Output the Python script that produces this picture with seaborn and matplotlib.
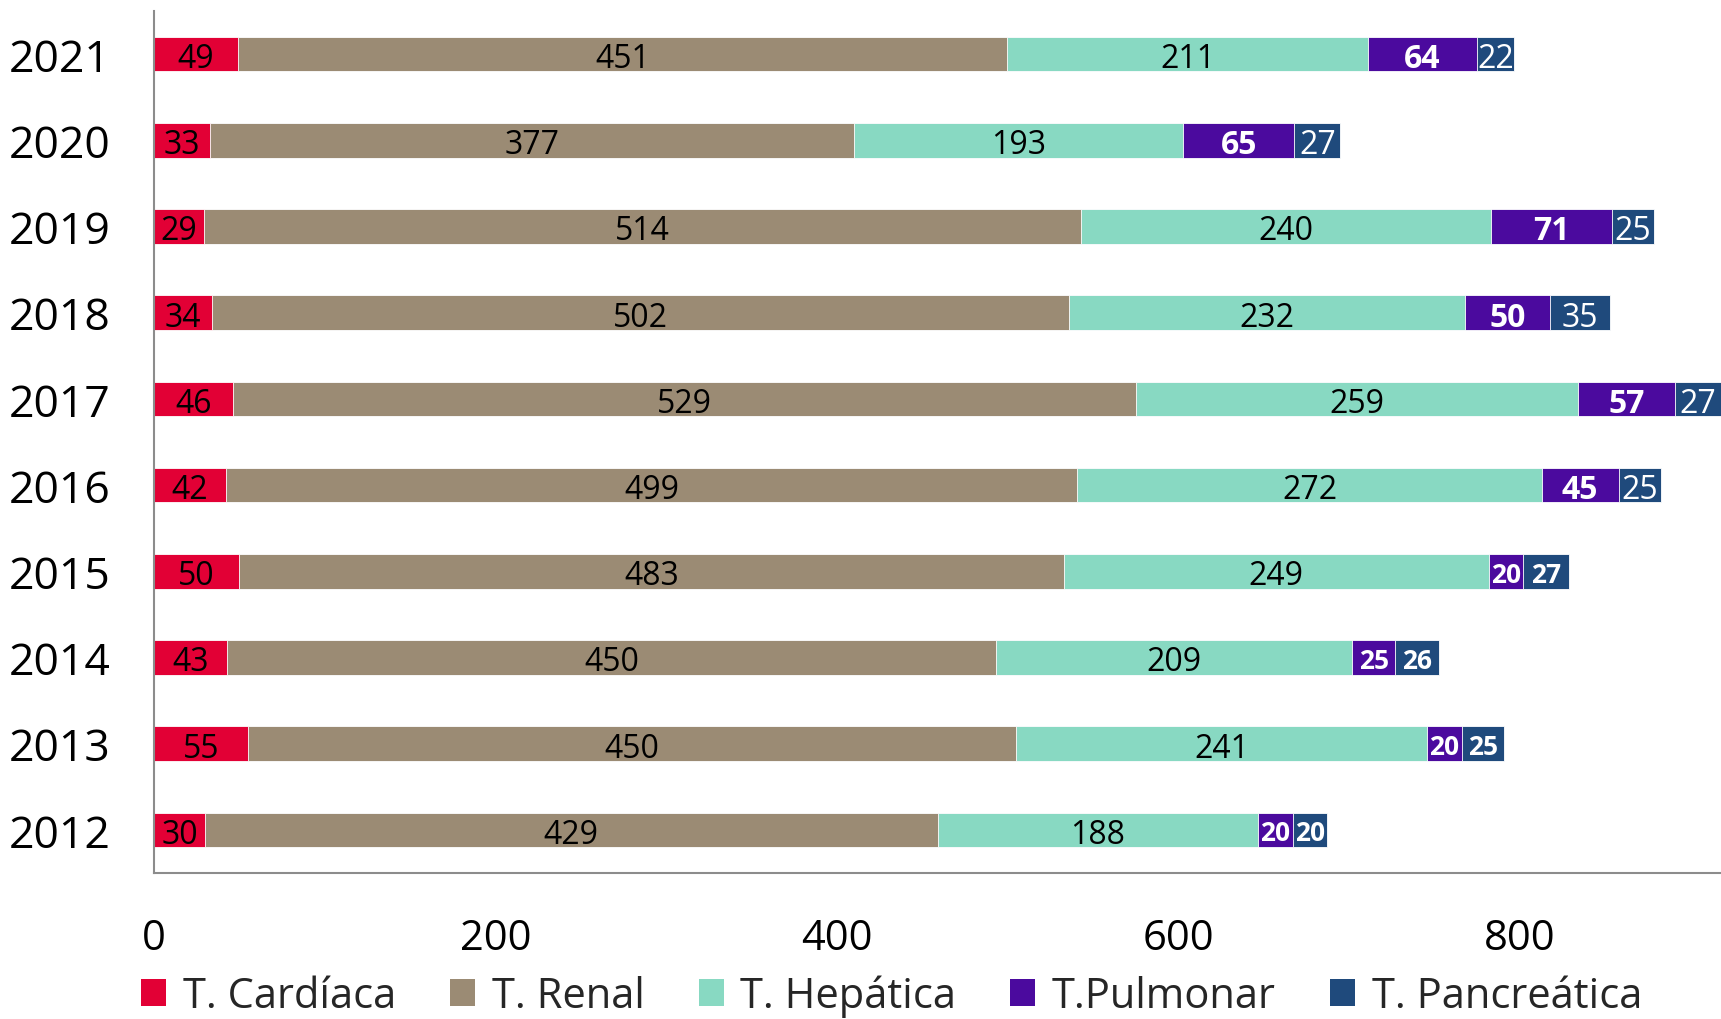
import pandas as pd
import matplotlib
matplotlib.use("Agg")
import matplotlib.pyplot as plt
from matplotlib.patches import Patch
import seaborn as sns

years = ["2021", "2020", "2019", "2018", "2017", "2016", "2015", "2014", "2013", "2012"]
cardiaca = [49, 33, 29, 34, 46, 42, 50, 43, 55, 30]
renal = [451, 377, 514, 502, 529, 499, 483, 450, 450, 429]
hepatica = [211, 193, 240, 232, 259, 272, 249, 209, 241, 188]
pulmonar = [64, 65, 71, 50, 57, 45, 20, 25, 20, 20]
pancreatica = [22, 27, 25, 35, 27, 25, 27, 26, 25, 20]

series_names = ["T. Cardíaca", "T. Renal", "T. Hepática", "T.Pulmonar", "T. Pancreática"]
series_values = [cardiaca, renal, hepatica, pulmonar, pancreatica]
x_ticks = [0, 200, 400, 600, 800]

# years where the purple / blue labels are small and bold
small_years = ["2015", "2014", "2013", "2012"]

colors = ["#E20035", "#9B8B74", "#88D9C2", "#4B0A9E", "#1F4A7C"]
label_colors = ["black", "black", "black", "white", "white"]
axis_gray = "#8c8c8c"

sns.set_style("white")
plt.rcParams["font.family"] = ["Open Sans", "DejaVu Sans"]

df = pd.DataFrame({"Año": years})
for name, vals in zip(series_names, series_values):
    df[name] = vals

# cumulative sums for stacking
cum_cols = []
running = pd.Series([0] * len(years))
for name in series_names:
    running = running + df[name]
    col = "cum_" + name
    df[col] = running
    cum_cols.append(col)

fig = plt.figure(figsize=(17.21, 10.20), dpi=100)
ax = fig.add_axes([154 / 1721, 1 - 874 / 1020, 1 - 154 / 1721, 862 / 1020])

# draw from the total down so each segment covers the previous one
for i in reversed(range(len(series_names))):
    sns.barplot(data=df, x=cum_cols[i], y="Año", order=years, orient="h",
                color=colors[i], saturation=1, width=0.4,
                edgecolor="white", linewidth=0.6, ax=ax)

# segment labels
for i, name in enumerate(series_names):
    for j, yr in enumerate(years):
        v = df.loc[j, name]
        xc = df.loc[j, cum_cols[i]] - v / 2
        if i >= 3:
            bold = True if (i == 3 or yr in small_years) else False
            size = 19 if yr in small_years else 23
        else:
            bold = False
            size = 23
        dy = 0.12 if size < 20 else 0.15
        ax.text(xc, j + dy, str(v), ha="center", va="baseline", color=label_colors[i],
                fontsize=size, fontweight="bold" if bold else "normal")

ax.set_xlim(0, 918)
ax.set_ylim(len(years) - 0.5, -0.5)
ax.set_xticks(x_ticks)
ax.set_xticklabels([str(t) for t in x_ticks])
ax.set_xlabel("")
ax.set_ylabel("")

ax.tick_params(axis="x", length=0, pad=32, labelsize=30, labelcolor="black")
ax.tick_params(axis="y", which="major", length=0, pad=31, labelsize=32, labelcolor="black")
ax.set_yticks([k - 0.5 for k in range(len(years) + 1)], minor=True)
ax.tick_params(axis="y", which="minor", length=11, width=1.5, color=axis_gray, direction="out")

for side in ["top", "right"]:
    ax.spines[side].set_visible(False)
for side in ["left", "bottom"]:
    ax.spines[side].set_color(axis_gray)
    ax.spines[side].set_linewidth(1.5)

handles = [Patch(facecolor=c, edgecolor="none") for c in colors]
fig.legend(handles, series_names, loc="lower center", bbox_to_anchor=(0.518, 0.002),
           ncol=5, frameon=False, fontsize=30, handlelength=0.6, handleheight=0.6,
           handletextpad=0.4, columnspacing=1.3, borderpad=0, borderaxespad=0)

fig.savefig("out.png", dpi=100)
